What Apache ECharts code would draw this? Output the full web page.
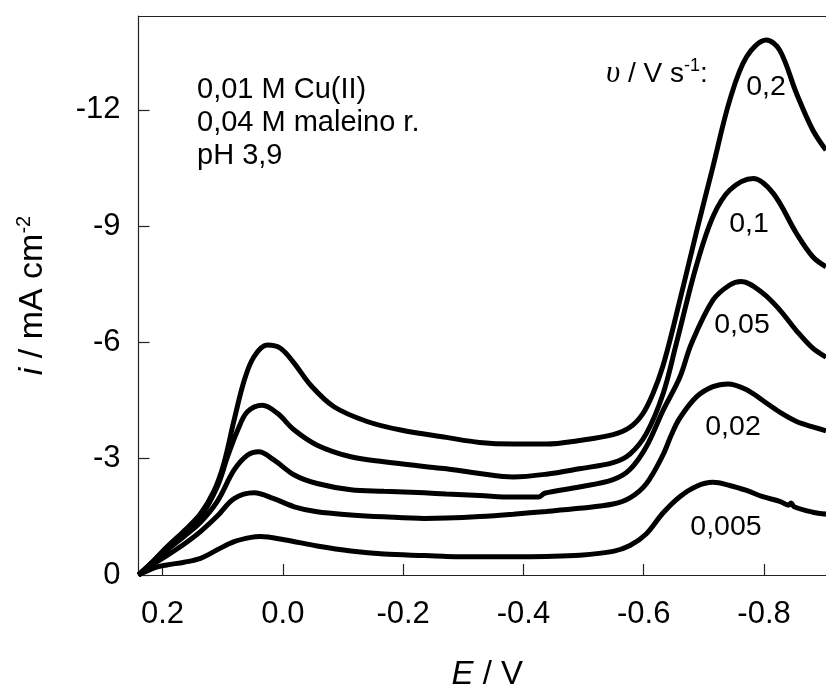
<!DOCTYPE html>
<html>
<head>
<meta charset="utf-8">
<script src="https://cdn.jsdelivr.net/npm/echarts@6/dist/echarts.min.js"></script>
<style>
html,body{margin:0;padding:0;background:#fff;}
#c{width:826px;height:687px;}
</style>
</head>
<body>
<div id="c"></div>
<script>
// ---------- data (E / V, i / mA cm^-2) ----------
const scanRates = ['0,2', '0,1', '0,05', '0,02', '0,005'];

const E_02 = [0.240, 0.215, 0.193, 0.164, 0.137, 0.115, 0.098, 0.081, 0.064, 0.048, 0.026, 0.004, -0.019, -0.046, -0.085, -0.140, -0.196, -0.272, -0.327, -0.383, -0.438, -0.493, -0.549, -0.577, -0.598, -0.615, -0.632, -0.650, -0.687, -0.715, -0.743, -0.771, -0.804, -0.826, -0.854, -0.881, -0.903];
const I_02 = [0, -0.37, -0.72, -1.14, -1.58, -2.15, -2.88, -4.00, -5.03, -5.63, -5.93, -5.85, -5.46, -4.90, -4.34, -3.96, -3.74, -3.55, -3.42, -3.38, -3.38, -3.47, -3.62, -3.81, -4.15, -4.67, -5.40, -6.45, -8.81, -10.53, -12.25, -13.37, -13.80, -13.54, -12.42, -11.48, -10.96];

const E_01 = [0.240, 0.215, 0.193, 0.164, 0.137, 0.109, 0.092, 0.075, 0.059, 0.034, 0.009, -0.019, -0.057, -0.113, -0.168, -0.235, -0.272, -0.327, -0.383, -0.438, -0.493, -0.549, -0.577, -0.604, -0.632, -0.654, -0.687, -0.715, -0.743, -0.782, -0.815, -0.854, -0.881, -0.903];
const I_01 = [0, -0.36, -0.70, -1.10, -1.50, -2.28, -3.05, -3.74, -4.21, -4.38, -4.17, -3.74, -3.35, -3.05, -2.92, -2.80, -2.74, -2.62, -2.53, -2.60, -2.74, -2.90, -3.12, -3.64, -4.67, -5.96, -7.95, -9.24, -9.93, -10.23, -9.85, -8.81, -8.21, -7.95];

const E_005 = [0.240, 0.215, 0.193, 0.164, 0.137, 0.109, 0.081, 0.059, 0.040, 0.015, -0.019, -0.057, -0.113, -0.168, -0.235, -0.272, -0.327, -0.383, -0.425, -0.435, -0.493, -0.549, -0.577, -0.604, -0.632, -0.660, -0.679, -0.715, -0.743, -0.762, -0.798, -0.826, -0.854, -0.881, -0.903];
const I_005 = [0, -0.34, -0.64, -1.00, -1.36, -1.90, -2.71, -3.09, -3.18, -2.97, -2.58, -2.36, -2.20, -2.16, -2.12, -2.09, -2.05, -2.01, -2.01, -2.11, -2.27, -2.46, -2.72, -3.30, -4.24, -5.10, -5.96, -7.09, -7.48, -7.57, -7.27, -6.84, -6.30, -5.85, -5.62];

const E_002 = [0.240, 0.215, 0.193, 0.164, 0.137, 0.109, 0.081, 0.048, 0.015, -0.019, -0.057, -0.113, -0.168, -0.235, -0.272, -0.327, -0.383, -0.438, -0.493, -0.549, -0.577, -0.604, -0.632, -0.646, -0.660, -0.688, -0.715, -0.740, -0.771, -0.798, -0.826, -0.854, -0.881, -0.903];
const I_002 = [0, -0.28, -0.50, -0.80, -1.12, -1.52, -1.97, -2.12, -1.97, -1.76, -1.63, -1.55, -1.50, -1.46, -1.47, -1.51, -1.57, -1.64, -1.72, -1.83, -1.99, -2.35, -3.10, -3.62, -4.05, -4.60, -4.86, -4.93, -4.78, -4.50, -4.20, -3.96, -3.82, -3.72];

const E_0005 = [0.240, 0.215, 0.193, 0.164, 0.137, 0.109, 0.081, 0.053, 0.037, -0.002, -0.057, -0.113, -0.168, -0.235, -0.272, -0.327, -0.383, -0.438, -0.493, -0.549, -0.577, -0.604, -0.632, -0.660, -0.688, -0.715, -0.743, -0.771, -0.798, -0.826, -0.841, -0.845, -0.850, -0.881, -0.903];
const I_0005 = [0, -0.18, -0.26, -0.33, -0.43, -0.65, -0.86, -0.97, -0.99, -0.91, -0.75, -0.62, -0.54, -0.50, -0.48, -0.47, -0.47, -0.48, -0.51, -0.61, -0.76, -1.06, -1.60, -2.02, -2.29, -2.39, -2.31, -2.18, -2.02, -1.90, -1.80, -1.86, -1.76, -1.62, -1.57];

const xTicks = [0.2, 0.0, -0.2, -0.4, -0.6, -0.8];
const yTicks = [0, -3, -6, -9, -12];
const xMin = -0.903, xMax = 0.240;
const yMin = -14.42, yMax = 0;

const curves = [[E_02, I_02], [E_01, I_01], [E_005, I_005], [E_002, I_002], [E_0005, I_0005]];

// ---------- chart ----------
const FONT = "'Liberation Sans', Arial, sans-serif";
const chart = echarts.init(document.getElementById('c'), null, {renderer: 'canvas'});

const axisColor = '#222';

const series = curves.map((c, k) => ({
  type: 'line',
  name: scanRates[k],
  data: c[0].map((e, j) => [e, c[1][j]]),
  showSymbol: false,
  smooth: 0.35,
  lineStyle: {color: '#000', width: 5},
  clip: true,
  silent: true,
  animation: false
}));

function label(text, x, y, size) {
  return {type: 'text', x: x, y: y, silent: true,
    style: {text: text, font: size + "px " + FONT, fill: '#000', align: 'center', verticalAlign: 'middle', textAlign: 'center', textVerticalAlign: 'middle'}};
}
function note(text, x, y) {
  return {type: 'text', x: x, y: y, silent: true,
    style: {text: text, font: "29px " + FONT, fill: '#000', align: 'left', verticalAlign: 'middle', textAlign: 'left', textVerticalAlign: 'middle'}};
}

const option = {
  animation: false,
  backgroundColor: '#fff',
  grid: {left: 138.5, top: 16, right: 0, bottom: 112, containLabel: false, outerBoundsMode: 'none'},
  xAxis: [{
    type: 'value',
    min: xMin, max: xMax, inverse: true,
    axisLine: {show: true, onZero: false, lineStyle: {color: axisColor, width: 1.2}},
    axisTick: {show: true, inside: true, length: 11, customValues: xTicks, lineStyle: {color: axisColor, width: 1.2}},
    axisLabel: {show: true, customValues: xTicks, margin: 24, fontSize: 31, color: '#000', fontFamily: FONT,
      formatter: v => v.toFixed(1)},
    splitLine: {show: false},
    name: '{it|E} / V',
    nameLocation: 'middle',
    nameGap: 83,
    nameTextStyle: {fontSize: 33, color: '#000', fontFamily: FONT, padding: [0, 0, 0, 10],
      rich: {it: {fontSize: 33, fontStyle: 'italic', color: '#000', fontFamily: FONT}}}
  }, {
    type: 'value', position: 'top', min: 0, max: 1,
    axisLine: {show: true, onZero: false, lineStyle: {color: axisColor, width: 1.2}},
    axisTick: {show: false}, axisLabel: {show: false}, splitLine: {show: false}
  }],
  yAxis: [{
    type: 'value',
    min: yMin, max: yMax, inverse: true,
    axisLine: {show: true, onZero: false, lineStyle: {color: axisColor, width: 1.2}},
    axisTick: {show: true, inside: true, length: 11, customValues: yTicks, lineStyle: {color: axisColor, width: 1.2}},
    axisLabel: {show: true, customValues: yTicks, margin: 18, fontSize: 31, color: '#000', fontFamily: FONT,
      formatter: v => String(v)},
    splitLine: {show: false},
    name: '{it|i} / mA cm{sup|-2}',
    nameLocation: 'middle',
    nameRotate: 90,
    nameGap: 88,
    nameTextStyle: {fontSize: 34, color: '#000', fontFamily: FONT, lineHeight: 36,
      rich: {
        it: {fontSize: 34, fontStyle: 'italic', color: '#000', fontFamily: FONT, lineHeight: 36},
        sup: {fontSize: 20, color: '#000', fontFamily: FONT, lineHeight: 16, verticalAlign: 'top'}
      }}
  }],
  series: series,
  graphic: [
    note('0,01 M Cu(II)', 197, 90),
    note('0,04 M maleino r.', 197, 123),
    note('pH 3,9', 197, 156),
    {type: 'text', x: 606, y: 74, silent: true,
      style: {text: '{v|υ} / V s{sup|-1}:', font: "28px " + FONT, fill: '#000', align: 'left', verticalAlign: 'middle', textAlign: 'left', textVerticalAlign: 'middle',
        rich: {
          v: {font: "italic 31px 'Liberation Serif', 'DejaVu Serif', serif", fill: '#000', lineHeight: 34},
          sup: {font: "18px " + FONT, fill: '#000', lineHeight: 14, verticalAlign: 'top'}
        }}},
    label(scanRates[0], 766, 87, 28.5),
    label(scanRates[1], 749, 224, 28.5),
    label(scanRates[2], 742, 325, 28.5),
    label(scanRates[3], 733, 427, 28.5),
    label(scanRates[4], 726, 527, 28.5)
  ]
};
chart.setOption(option);
</script>
</body>
</html>
